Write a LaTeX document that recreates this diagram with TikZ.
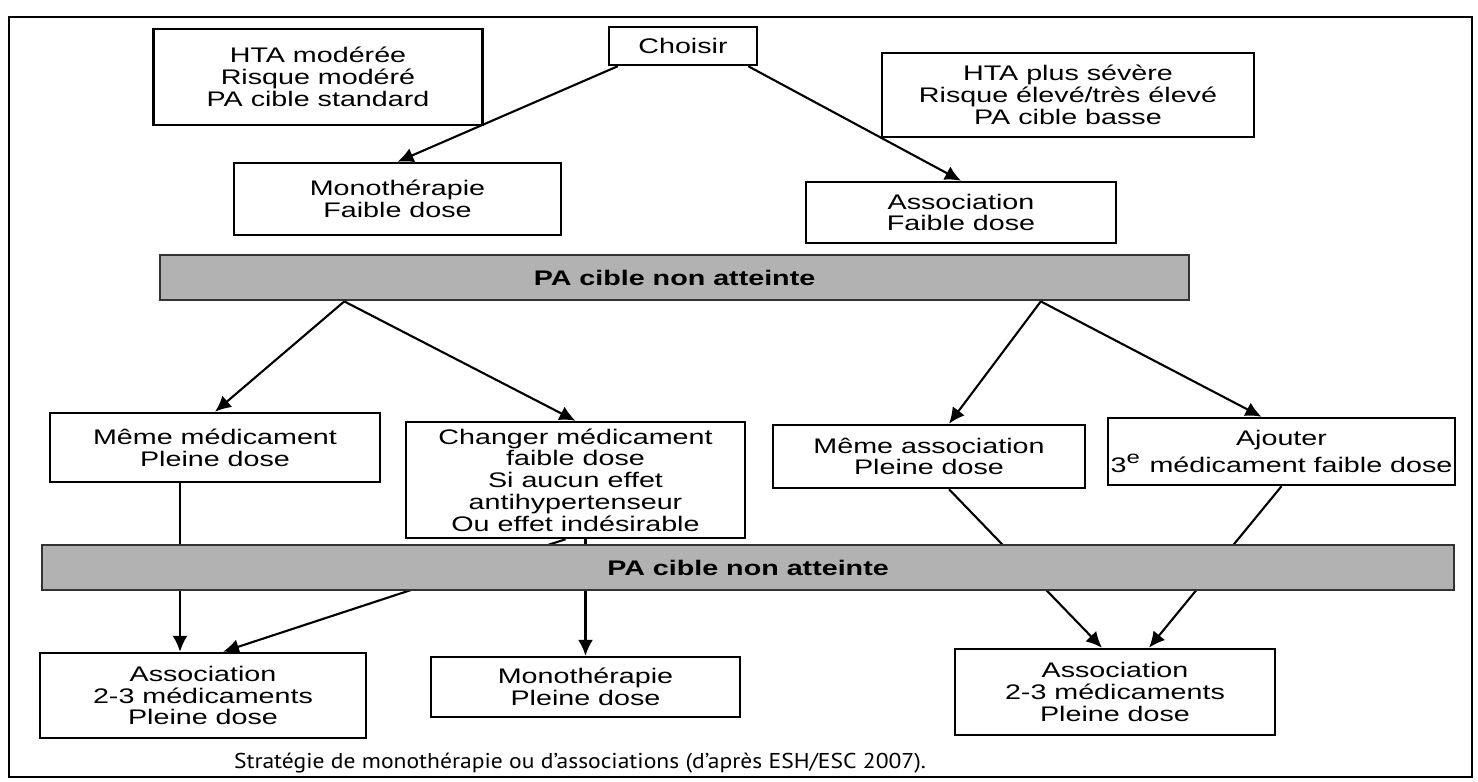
\documentclass[tikz,border=0pt]{standalone}
\usepackage{fontspec}
\setmainfont[FakeStretch=1.36]{Liberation Sans}
\newfontfamily\capfont[FakeStretch=1.1]{PT Sans}
\usetikzlibrary{arrows.meta,backgrounds,calc}

\begin{document}
\begin{tikzpicture}[
	box/.style={draw, line width=0.7pt, align=center, inner sep=0pt, font=\fontsize{6}{6.2}\selectfont},
	band/.style={draw=black!80, line width=0.8pt, fill=black!30, inner sep=0pt, minimum height=0.45cm, font=\bfseries\fontsize{6}{6.2}\selectfont},
	arr/.style={line width=0.6pt, -{Latex[length=1.6mm,width=1.5mm]}},
	ln/.style={line width=0.6pt}]
\useasboundingbox (0,0) rectangle (14.78,7.81);
\draw [line width=0.8pt] (0.09,0.04) rectangle (14.72,7.64);

% first choice
\node [box, minimum width=3.29cm, minimum height=0.96cm] (hta1) at (3.18,7.04) {HTA modérée\\Risque modéré\\PA cible standard};
\node [box, minimum width=1.48cm, minimum height=0.38cm] (choisir) at (6.83,7.35) {Choisir};
\node [box, minimum width=3.72cm, minimum height=0.84cm] (hta2) at (10.68,6.86) {HTA plus sévère\\Risque élevé/très élevé\\PA cible basse};
\node [box, minimum width=3.27cm, minimum height=0.72cm] (mono1) at (3.975,5.82) {Monothérapie\\Faible dose};
\node [box, minimum width=3.10cm, minimum height=0.61cm] (asso1) at (9.61,5.685) {Association\\Faible dose};
\node [band, minimum width=10.29cm] (band1) at (6.745,5.035) {PA cible non atteinte};

\draw [arr] ([xshift=1mm]choisir.south west) -- (mono1.north);
\draw [arr] ([xshift=-1mm]choisir.south east) -- (asso1.north);

% second step
\node [box, minimum width=3.30cm, minimum height=0.69cm] (meme1) at (2.15,3.335) {Même médicament\\Pleine dose};
\node [box, minimum width=3.39cm, minimum height=1.16cm] (changer) at (5.755,3.01) {Changer médicament\\faible dose\\Si aucun effet\\antihypertenseur\\Ou effet indésirable};
\node [box, minimum width=3.12cm, minimum height=0.63cm] (meme2) at (9.29,3.245) {Même association\\Pleine dose};
\node [box, minimum width=3.47cm, minimum height=0.67cm] (ajout) at (12.815,3.295) {Ajouter\\3\textsuperscript{e} médicament faible dose};

\coordinate (b1left) at ($(band1.south west)!0.18!(band1.south east)$);
\coordinate (b1right) at ($(band1.south west)!0.855!(band1.south east)$);
\draw [arr] (b1left) -- (meme1.north);
\draw [arr] (b1left) -- (changer.north);
\draw [arr] (b1right) -- ([xshift=2mm]meme2.north);
\draw [arr] (b1right) -- ([xshift=-2mm]ajout.north);

% last step
\node [band, minimum width=14.12cm] (band2) at (7.48,2.135) {PA cible non atteinte};
\node [box, minimum width=3.26cm, minimum height=0.85cm] (asso2) at (2.03,0.855) {Association\\2-3 médicaments\\Pleine dose};
\node [box, minimum width=3.09cm, minimum height=0.60cm] (mono2) at (5.855,0.94) {Monothérapie\\Pleine dose};
\node [box, minimum width=3.20cm, minimum height=0.86cm] (asso3) at (11.15,0.89) {Association\\2-3 médicaments\\Pleine dose};

\begin{scope}[on background layer]
\draw [arr] ([xshift=-3.5mm]meme1.south) -- ([xshift=-3.5mm]meme1.south |- asso2.north);
\draw [arr] ([xshift=-1mm]changer.south) -- ([xshift=2mm]asso2.north);
\draw [arr] (changer.south -| mono2.north) -- (mono2.north);
\draw [arr] ([xshift=2mm]meme2.south) -- ([xshift=-1.3mm]asso3.north);
\draw [arr] (ajout.south) -- ([xshift=3.4mm]asso3.north);
\end{scope}

\node [font=\capfont\fontsize{6.1}{6.5}\selectfont] (legende) at (5.80,0.18) {Stratégie de monothérapie ou d’associations (d’après ESH/ESC 2007).};
\end{tikzpicture}
\end{document}
